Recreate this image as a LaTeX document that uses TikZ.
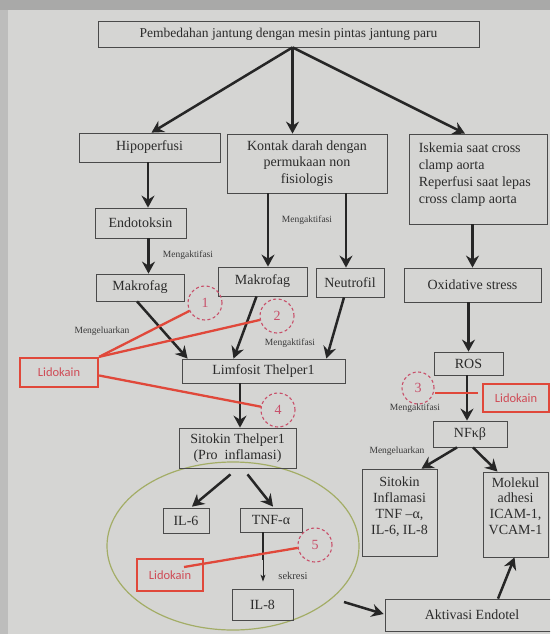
\documentclass[tikz,border=0pt]{standalone}
\usepackage{fontspec}
\setmainfont{Liberation Serif}
\newfontfamily\lidofont{Carlito}
\usetikzlibrary{arrows.meta,calc,shapes.geometric}
\definecolor{paper}{HTML}{D5D5D3}
\definecolor{edgetop}{HTML}{A9A9A8}
\definecolor{edgeleft}{HTML}{BDBDBC}
\definecolor{boxc}{HTML}{4A4A4A}
\definecolor{ink}{HTML}{2B2B2B}
\definecolor{ink2}{HTML}{3A3A3A}
\definecolor{arrc}{HTML}{262626}
\definecolor{redc}{HTML}{E0483A}
\definecolor{lidotext}{HTML}{CF4A55}
\definecolor{circc}{HTML}{C8506A}
\definecolor{greenc}{HTML}{A3AD66}
\tikzset{
  box/.style={draw=boxc, line width=0.8pt, text=ink, font=\fontsize{14}{16}\selectfont, inner sep=0pt, align=center},
  boxtext/.style={inner sep=0pt, text=ink, font=\fontsize{14}{16}\selectfont},
  arr/.style={draw=arrc, line width=2.5pt, -{Stealth[length=12pt,width=13pt,inset=4pt]}},
  lbl/.style={text=ink2, font=\fontsize{9.5}{11}\selectfont, inner sep=0pt},
  lido/.style={draw=redc, line width=2.3pt, text=lidotext, font=\lidofont\fontsize{12.5}{14}\selectfont, inner sep=0pt},
  redline/.style={draw=redc, line width=2.3pt},
  numc/.style={circle, draw=circc, line width=1.1pt, dash pattern=on 3pt off 2.5pt, minimum size=34pt, inner sep=0pt, text=circc, font=\fontsize{14}{16}\selectfont},
  group/.style={ellipse, draw=greenc, line width=1.2pt, inner sep=0pt}
}
\begin{document}
\begin{tikzpicture}[x=1pt,y=-1pt]
\useasboundingbox (0,0) rectangle (550,634);
\fill[paper] (0,0) rectangle (550,634);
\fill[edgetop] (0,0) rectangle (550,10);
\fill[edgeleft] (0,10) rectangle (8,634);
\begin{scope}
\clip (0,0) rectangle (550,634);
% group ellipse
\node[group, minimum width=252, minimum height=168] (grp) at (233,546) {};
% boxes
\node[box, minimum width=381, minimum height=26, font=\fontsize{13.5}{16}\selectfont] (top) at (288.5,34) {Pembedahan jantung dengan mesin pintas jantung paru};
\node[box, minimum width=141, minimum height=29] (hipo) at (149.5,147.5) {Hipoperfusi};
\node[box, minimum width=160, minimum height=59, font=\fontsize{14}{16.5}\selectfont] (kontak) at (307,163.5) {Kontak darah dengan\\permukaan non\\fisiologis};
\node[box, minimum width=138, minimum height=90,
  label={[boxtext, anchor=north west, align=left, font=\fontsize{14}{17}\selectfont, xshift=10pt, yshift=-8.5pt]north west:{Iskemia saat cross\\clamp aorta\\Reperfusi saat lepas\\cross clamp aorta}}] (isk) at (478,179) {};
\node[box, minimum width=91, minimum height=30] (endo) at (140.5,223) {Endotoksin};
\node[box, minimum width=88, minimum height=27] (mak1) at (140,287.5) {Makrofag};
\node[box, minimum width=89, minimum height=29] (mak2) at (262.5,281.5) {Makrofag};
\node[box, minimum width=68, minimum height=29] (neut) at (350,282.5) {Neutrofil};
\node[box, minimum width=137, minimum height=34] (oxid) at (472.5,285) {Oxidative stress};
\node[box, minimum width=69, minimum height=23] (ros) at (468.5,363.5) {ROS};
\node[box, minimum width=74, minimum height=26] (nfkb) at (470,434) {NFκβ};
\node[box, minimum width=163, minimum height=24] (limf) at (263.5,371) {Limfosit Thelper1};
\node[box, minimum width=117, minimum height=40, font=\fontsize{14}{15.5}\selectfont] (sitok) at (237.5,448) {Sitokin Thelper1\\(Pro\ \ inflamasi)};
\node[box, minimum width=46, minimum height=25] (il6) at (186,520.5) {IL-6};
\node[box, minimum width=62, minimum height=24] (tnf) at (271,520) {TNF-α};
\node[box, minimum width=61, minimum height=31] (il8) at (262.5,604.5) {IL-8};
\node[box, minimum width=75, minimum height=87,
  label={[boxtext, anchor=north, align=center, yshift=-7.5pt]north:{Sitokin\\Inflamasi\\TNF –α,\\IL-6, IL-8}}] (sinf) at (399.5,512.5) {};
\node[box, minimum width=65, minimum height=85,
  label={[boxtext, anchor=north, align=center, font=\fontsize{14}{15.7}\selectfont, yshift=-5.5pt]north:{Molekul\\adhesi\\ICAM-1,\\VCAM-1}}] (mol) at (515.5,514.5) {};
\node[box, minimum width=174, minimum height=32] (akt) at (472,615) {Aktivasi Endotel};
% lidokain boxes
\node[lido, minimum width=78, minimum height=29] (lidoL) at (59,372.5) {Lidokain};
\node[lido, minimum width=66, minimum height=28] (lidoR) at (516,398) {Lidokain};
\node[lido, minimum width=66, minimum height=32] (lidoB) at (170,575) {Lidokain};
% numbered circles
\node[numc] (c1) at (205,303) {1};
\node[numc] (c2) at (277,316) {2};
\node[numc, minimum size=32pt] (c3) at (418,388) {3};
\node[numc] (c4) at (278,410) {4};
\node[numc] (c5) at (315,545) {5};
% small labels
\node[lbl] (l1) at (188,255) {Mengaktifasi};
\node[lbl] (l2) at (307,220) {Mengaktifasi};
\node[lbl] (l3) at (102,331) {Mengeluarkan};
\node[lbl] (l4) at (290,343) {Mengaktifasi};
\node[lbl] (l5) at (415,408) {Mengaktifasi};
\node[lbl] (l6) at (397,451) {Mengeluarkan};
\node[lbl, font=\fontsize{10.5}{12}\selectfont] (l7) at (293,576) {sekresi};
% coordinates
\coordinate (ts) at ($(top.south)+(4,0)$);
\coordinate (k1) at ($(kontak.south)+(-39,0)$);
\coordinate (k2) at ($(kontak.south)+(39,0)$);
\coordinate (tm) at (263,560);
\coordinate (g1) at (344,602);
% arrows
\draw[arr] (ts) -- ($(hipo.north)+(2,0)$);
\draw[arr] (ts) -- (ts |- kontak.north);
\draw[arr] (ts) -- ($(isk.north)+(-13,0)$);
\draw[arr] ($(hipo.south)+(-1.5,0)$) -- ($(hipo.south |- endo.north)+(-1.5,0)$);
\draw[arr] ($(hipo.south |- endo.south)+(-1,0)$) -- ($(hipo.south |- mak1.north)+(-1,0)$);
\draw[arr] (k1) -- (k1 |- mak2.north);
\draw[arr] (k2) -- (k2 |- neut.north);
\draw[arr] (oxid.north |- isk.south) -- (oxid.north);
\draw[arr] (ros.north |- oxid.south) -- (ros.north);
\draw[arr] ($(ros.south)+(-1.5,0)$) -- ($(ros.south |- nfkb.north)+(-1.5,0)$);
\draw[arr] ($(nfkb.south)+(-13,0)$) -- ($(sinf.north)+(22,0)$);
\draw[arr] ($(nfkb.south)+(3,0)$) -- ($(mol.north)+(-18,0)$);
\draw[arr] ($(akt.north)+(26,0)$) -- ($(mol.south)+(-1,0)$);
\draw[arr] (g1) -- ($(akt.west)+(-1,-1)$);
\draw[arr] ($(mak1.south)+(-3,0)$) -- ($(limf.north west)+(6,0)$);
\draw[arr] ($(mak2.south)+(-6,0)$) -- ($(limf.north)+(-30,0)$);
\draw[arr] ($(neut.south)+(-6,0)$) -- ($(limf.north east)+(-19,0)$);
\draw[arr] ($(sitok.north |- limf.south)+(2.5,0)$) -- ($(sitok.north)+(2.5,0)$);
\draw[arr] ($(sitok.south)+(-7,6)$) -- ($(il6.north)+(6,-1)$);
\draw[arr] ($(sitok.south)+(10,6)$) -- ($(tnf.north)+(2,-1)$);
\draw[draw=arrc, line width=2.5pt] (tnf.south -| tm) -- (tm);
\draw[draw=arrc, line width=1pt, -{Stealth[length=7pt,width=5pt,inset=2pt]}, shorten >=7pt] (tm) -- (tm |- il8.north);
% red lines
\draw[redline] (lidoL.north east) -- (c1);
\draw[redline] (lidoL.north east) -- (c2);
\draw[redline] ($(lidoL.east)+(0,3)$) -- (c4);
\draw[redline] ($(c3.east)+(0,5)$) -- ($(lidoR.west)+(-4,-5)$);
\draw[redline] ($(lidoB.center)+(14,-8)$) -- (c5);
\end{scope}
\end{tikzpicture}
\end{document}
